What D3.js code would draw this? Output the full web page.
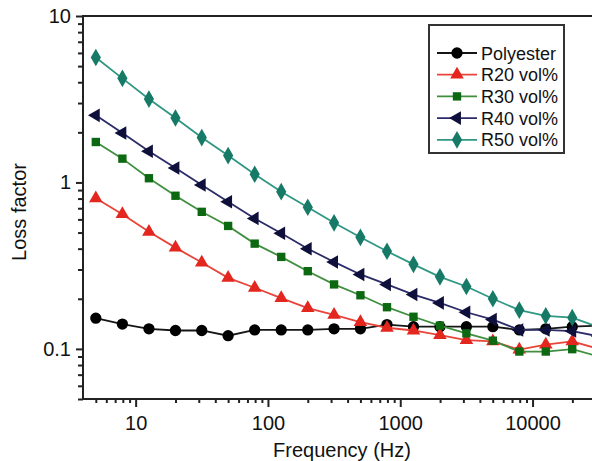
<!DOCTYPE html>
<html>
<head>
<meta charset="utf-8">
<script src="https://cdnjs.cloudflare.com/ajax/libs/d3/7.8.5/d3.min.js"></script>
<style>
  body { margin: 0; background: #fff; }
  svg text { font-family: "Liberation Sans", Arial, sans-serif; fill: #111; }
</style>
</head>
<body>
<script>
// frequency points (Hz), 5 per decade
var freqs = [5, 7.94, 12.6, 20, 31.6, 50, 79.4, 126, 200, 316, 500, 794, 1259, 1995, 3162, 5012, 7943, 12589, 19953, 31623];

var polyester = [0.153, 0.141, 0.132, 0.129, 0.129, 0.120, 0.130, 0.130, 0.130, 0.132, 0.132, 0.140, 0.136, 0.136, 0.136, 0.136, 0.130, 0.132, 0.136, 0.138];
var r20 = [0.803, 0.645, 0.505, 0.406, 0.330, 0.267, 0.233, 0.202, 0.176, 0.160, 0.145, 0.134, 0.129, 0.121, 0.113, 0.111, 0.099, 0.106, 0.111, 0.100];
var r30 = [1.75, 1.39, 1.06, 0.832, 0.666, 0.548, 0.429, 0.357, 0.293, 0.244, 0.210, 0.178, 0.156, 0.138, 0.124, 0.112, 0.0964, 0.0964, 0.0996, 0.090];
var r40 = [2.53, 1.98, 1.54, 1.22, 0.966, 0.766, 0.608, 0.495, 0.400, 0.333, 0.280, 0.244, 0.212, 0.189, 0.166, 0.150, 0.130, 0.130, 0.128, 0.119];
var r50 = [5.63, 4.22, 3.17, 2.44, 1.86, 1.45, 1.12, 0.88, 0.71, 0.572, 0.468, 0.386, 0.322, 0.271, 0.237, 0.200, 0.171, 0.158, 0.154, 0.135];

var seriesNames = ["Polyester", "R20 vol%", "R30 vol%", "R40 vol%", "R50 vol%"];
var seriesValues = [polyester, r20, r30, r40, r50];

var xMajor = [10, 100, 1000, 10000];
var yMajor = [0.1, 1, 10];

var lineColors = ["#151515", "#e8443a", "#3f8f3f", "#2b2b68", "#2f9784"];
var markColors = ["#000000", "#e3271f", "#0d6812", "#0f0f3c", "#167a67"];
var shapes = [d3.symbolCircle, d3.symbolTriangle, d3.symbolSquare, d3.symbolTriangle, d3.symbolDiamond];
var sizes = [100, 80, 70, 80, 90];
var rotations = [0, 0, 0, -90, 0];

var svg = d3.select("body").append("svg")
    .attr("width", 592)
    .attr("height", 461);

var x = d3.scaleLog().domain([4, 40000]).range([83, 83 + 132.3 * 4]);
var y = d3.scaleLog().domain([0.05, 10]).range([399, 16]);

// minor tick positions
var xMinor = [];
[1, 10, 100, 1000, 10000].forEach(function(dec) {
    for (var k = 2; k <= 9; k++) {
        var v = k * dec;
        if (v > 4 && v < 40000 && xMajor.indexOf(v) < 0) xMinor.push(v);
    }
});
var yMinor = [];
[0.01, 0.1, 1].forEach(function(dec) {
    for (var k = 2; k <= 9; k++) {
        var v = k * dec;
        if (v >= 0.05 && v < 10) yMinor.push(v);
    }
});

// minor ticks
svg.append("g")
    .attr("transform", "translate(0,399)")
    .call(d3.axisBottom(x).tickValues(xMinor).tickSize(4).tickFormat(""))
    .call(function(g) { g.select(".domain").remove(); })
    .selectAll("line").attr("stroke", "#222").attr("stroke-width", 2);
svg.append("g")
    .attr("transform", "translate(83,0)")
    .call(d3.axisLeft(y).tickValues(yMinor).tickSize(5).tickFormat(""))
    .call(function(g) { g.select(".domain").remove(); })
    .selectAll("line").attr("stroke", "#222").attr("stroke-width", 2);

// major ticks + labels
var xAxis = svg.append("g")
    .attr("transform", "translate(0,399)")
    .call(d3.axisBottom(x).tickValues(xMajor).tickSize(8).tickPadding(9).tickFormat(d3.format("d")));
xAxis.select(".domain").remove();
xAxis.selectAll("line").attr("stroke", "#222").attr("stroke-width", 2);
xAxis.selectAll("text").attr("font-size", "20px").attr("fill", "#111");

var yAxis = svg.append("g")
    .attr("transform", "translate(83,0)")
    .call(d3.axisLeft(y).tickValues(yMajor).tickSize(7).tickPadding(5).tickFormat(function(d) { return d === 0.1 ? "0.1" : String(d); }));
yAxis.select(".domain").remove();
yAxis.selectAll("line").attr("stroke", "#222").attr("stroke-width", 2);
yAxis.selectAll("text").attr("font-size", "20px").attr("fill", "#111");

// frame
svg.append("rect")
    .attr("x", 83).attr("y", 16)
    .attr("width", 600).attr("height", 383)
    .attr("fill", "none")
    .attr("stroke", "#222")
    .attr("stroke-width", 2);

// series
var line = d3.line()
    .x(function(d) { return x(d[0]); })
    .y(function(d) { return y(d[1]); });

seriesValues.forEach(function(vals, s) {
    var pts = freqs.map(function(f, i) { return [f, vals[i]]; });
    svg.append("path")
        .datum(pts)
        .attr("d", line)
        .attr("fill", "none")
        .attr("stroke", lineColors[s])
        .attr("stroke-width", 1.8);
    svg.append("g").selectAll("path")
        .data(pts)
        .enter()
        .append("path")
        .attr("d", d3.symbol().type(shapes[s]).size(sizes[s]))
        .attr("transform", function(d) {
            return "translate(" + x(d[0]) + "," + y(d[1]) + ") rotate(" + rotations[s] + ")";
        })
        .attr("fill", markColors[s]);
});

// legend
var legend = svg.append("g");
legend.append("rect")
    .attr("x", 429).attr("y", 25)
    .attr("width", 135).attr("height", 128)
    .attr("fill", "#fff")
    .attr("stroke", "#333")
    .attr("stroke-width", 2);
seriesNames.forEach(function(name, s) {
    var cy = 53 + s * 21.7;
    legend.append("line")
        .attr("x1", 437).attr("x2", 477)
        .attr("y1", cy).attr("y2", cy)
        .attr("stroke", lineColors[s])
        .attr("stroke-width", 1.8);
    legend.append("path")
        .attr("d", d3.symbol().type(shapes[s]).size(sizes[s]))
        .attr("transform", "translate(457," + cy + ") rotate(" + rotations[s] + ")")
        .attr("fill", markColors[s]);
    legend.append("text")
        .attr("x", 481)
        .attr("y", cy + 6.5)
        .attr("font-size", "18px")
        .text(name);
});

// axis titles
svg.append("text")
    .attr("x", 342)
    .attr("y", 457)
    .attr("text-anchor", "middle")
    .attr("font-size", "20px")
    .text("Frequency (Hz)");

svg.append("text")
    .attr("transform", "translate(26,212) rotate(-90)")
    .attr("text-anchor", "middle")
    .attr("font-size", "20px")
    .text("Loss factor");
</script>
</body>
</html>
